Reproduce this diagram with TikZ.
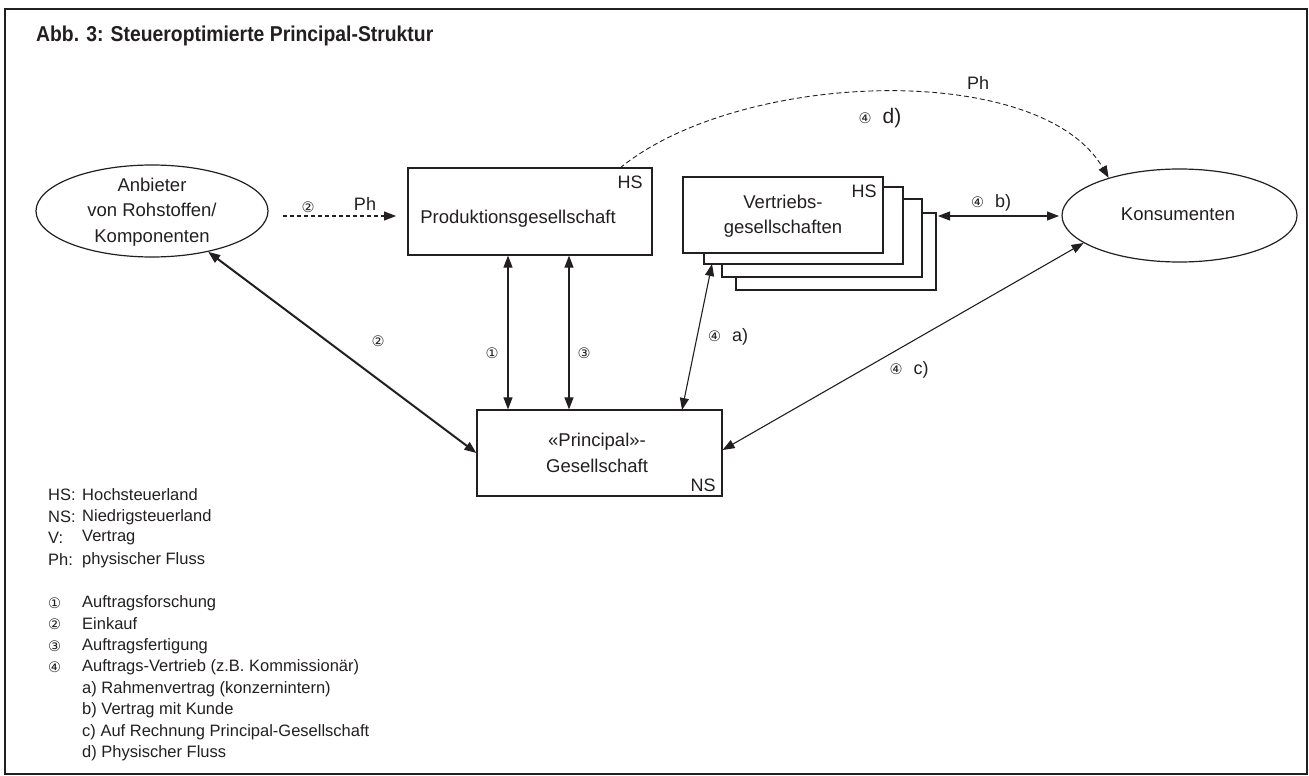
\documentclass[tikz,border=0pt]{standalone}
\usepackage{fontspec}
\setmainfont{Liberation Sans}
\newfontfamily\symf{DejaVu Sans}
\usetikzlibrary{arrows.meta,shapes.geometric}
\definecolor{ink}{HTML}{231F20}
\newcommand{\ccirc}[1]{{\symf\fontsize{14.5}{14.5}\selectfont #1}}
\begin{document}
\begin{tikzpicture}[x=1pt,y=-1pt,
  txt/.style={font=\fontsize{18.5}{25.5}\selectfont, inner sep=0pt, align=center, text=ink},
  lbl/.style={font=\fontsize{18}{18}\selectfont, inner sep=0pt, text=ink},
  leg/.style={font=\fontsize{16.5}{16.5}\selectfont, inner sep=0pt, anchor=west, text=ink},
  boxn/.style={draw=ink, line width=1.2pt, rectangle, fill=white, inner sep=0pt},
  ell/.style={draw=ink, line width=1.2pt, ellipse, inner sep=0pt},
  tri/.tip={Triangle[length=12pt,width=9pt]},
  conn/.style={draw=ink, line width=1.1pt, tri-tri},
  thickconn/.style={draw=ink, line width=2pt, tri-tri},
  dsh/.style={draw=ink, line width=1.2pt, dash pattern=on 4pt off 3pt, -tri},
  curvedsh/.style={draw=ink, line width=0.9pt, dash pattern=on 5pt off 3pt, -tri}
]
\useasboundingbox (0,0) rectangle (1309,776);
% frame
\draw[line width=2pt, ink] (5,9) rectangle (1307,774);
% title
\node[anchor=base west, inner sep=0pt, text=ink, font=\fontsize{21.5}{21.5}\selectfont\bfseries] (title) at (36,41.5)
  {\scalebox{0.9}[1]{Abb. 3: Steueroptimierte Principal-Struktur}};

% Anbieter ellipse
\node[ell, minimum width=232pt, minimum height=92pt] (anb) at (152,211) {};
\node[txt] (anbt) at (152,212) {Anbieter\\von Rohstoffen/\\Komponenten};

% Produktionsgesellschaft
\node[boxn, minimum width=244pt, minimum height=87pt] (prod) at (530,211.5) {};
\node[txt] (prodt) at (518,219) {Produktionsgesellschaft};
\node[lbl] (prodhs) at (630,182) {HS};

% Vertriebsgesellschaften stack
\node[boxn, minimum width=200pt, minimum height=77pt] (v4) at (836,251.5) {};
\node[boxn, minimum width=200pt, minimum height=78pt] (v3) at (822,238) {};
\node[boxn, minimum width=199pt, minimum height=77pt] (v2) at (803.5,225.5) {};
\node[boxn, minimum width=200pt, minimum height=76pt] (v1) at (783,215) {};
\node[txt] (v1t) at (783,216) {Vertriebs-\\gesellschaften};
\node[lbl] (v1hs) at (864,191) {HS};

% Konsumenten
\node[ell, minimum width=235pt, minimum height=93pt] (kon) at (1179.5,215.5) {};
\node[txt] (kont) at (1178,214) {Konsumenten};

% Principal
\node[boxn, minimum width=245pt, minimum height=86pt] (prin) at (599.5,453) {};
\node[txt] (print) at (597,453) {«Principal»-\\Gesellschaft};
\node[lbl] (prinns) at (703,485) {NS};

% coordinates
\coordinate (x1) at (508,0);
\coordinate (x3) at (569,0);
\coordinate (a4b) at (682,410);
\coordinate (a4t) at (712,264);
\coordinate (d2s) at (283,216);
\coordinate (d2e) at (396,216);
\coordinate (bL) at (938,216);
\coordinate (bR) at (1059,216);
\coordinate (dS) at (620,168);

% connectors
\draw[dsh] (d2s) -- (d2e);
\draw[conn] (prod.south -| x1) -- (prin.north -| x1);
\draw[conn] (prod.south -| x3) -- (prin.north -| x3);
\draw[conn] (a4b) -- (a4t);
\draw[thickconn] (anb.-36) -- (prin.west);
\draw[conn] ([yshift=3pt]prin.east) -- (kon.196);
\draw[conn] (bL) -- (bR);
\draw[curvedsh] (dS) .. controls (740,70) and (1040,60) .. (kon.152);

% connector labels
\node[inner sep=0pt, text=ink] (l2a) at (308,207) {\ccirc{②}};
\node[lbl] (l2ph) at (365,204) {Ph};
\node[inner sep=0pt, text=ink] (l1) at (492,353) {\ccirc{①}};
\node[inner sep=0pt, text=ink] (l3) at (584,353) {\ccirc{③}};
\node[inner sep=0pt, text=ink] (l2b) at (378,341) {\ccirc{②}};
\node[lbl] (l4a) at (728,337) {\ccirc{④}\hspace{11pt}a)};
\node[lbl] (l4b) at (991,203) {\ccirc{④}\hspace{11pt}b)};
\node[lbl] (l4c) at (909,370) {\ccirc{④}\hspace{11pt}c)};
\node[inner sep=0pt, text=ink] (l4d) at (880,118) {\ccirc{④}\hspace{11pt}{\fontsize{21}{21}\selectfont d)}};
\node[lbl] (lph) at (978,83) {Ph};

% legend
\node[leg] (k1) at (48,495) {HS:};
\node[leg] (k1t) at (82,495) {Hochsteuerland};
\node[leg] (k2) at (48,517) {NS:};
\node[leg] (k2t) at (82,517) {Niedrigsteuerland};
\node[leg] (k3) at (48,538) {V:};
\node[leg] (k3t) at (82,538) {Vertrag};
\node[leg] (k4) at (48,560) {Ph:};
\node[leg] (k4t) at (82,560) {physischer Fluss};
\node[leg] (n1) at (48,603) {\ccirc{①}};
\node[leg] (n1t) at (82,603) {Auftragsforschung};
\node[leg] (n2) at (48,624) {\ccirc{②}};
\node[leg] (n2t) at (82,624) {Einkauf};
\node[leg] (n3) at (48,646) {\ccirc{③}};
\node[leg] (n3t) at (82,646) {Auftragsfertigung};
\node[leg] (n4) at (48,667) {\ccirc{④}};
\node[leg] (n4t) at (82,667) {Auftrags-Vertrieb (z.B. Kommissionär)};
\node[leg] (sa) at (82,689) {a) Rahmenvertrag (konzernintern)};
\node[leg] (sb) at (82,710) {b) Vertrag mit Kunde};
\node[leg] (sc) at (82,732) {c) Auf Rechnung Principal-Gesellschaft};
\node[leg] (sd) at (82,753) {d) Physischer Fluss};
\end{tikzpicture}
\end{document}
